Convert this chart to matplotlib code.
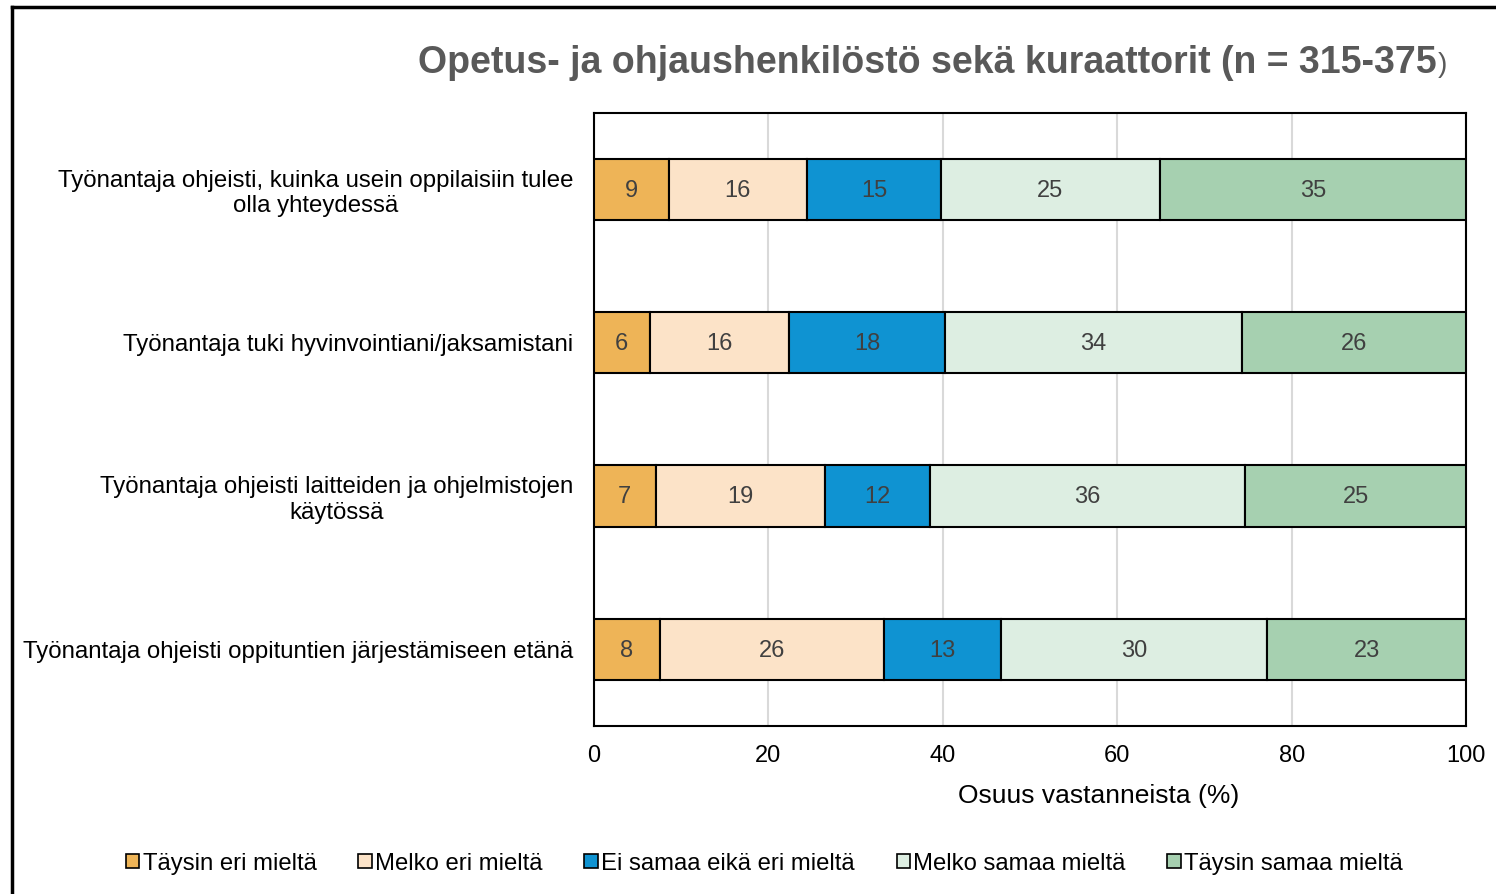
import matplotlib.pyplot as plt
import numpy as np
from matplotlib.lines import Line2D
from matplotlib.patches import Patch

plt.rcParams['font.family'] = ['Liberation Sans', 'DejaVu Sans']

# data (share of respondents, %)
questions = [
    "Työnantaja ohjeisti, kuinka usein oppilaisiin tulee\nolla yhteydessä",
    "Työnantaja tuki hyvinvointiani/jaksamistani",
    "Työnantaja ohjeisti laitteiden ja ohjelmistojen\nkäytössä",
    "Työnantaja ohjeisti oppituntien järjestämiseen etänä",
]
categories = ["Täysin eri mieltä", "Melko eri mieltä", "Ei samaa eikä eri mieltä",
              "Melko samaa mieltä", "Täysin samaa mieltä"]
taysin_eri = [8.6, 6.4, 7.1, 7.6]
melko_eri = [15.8, 16.0, 19.4, 25.7]
ei_samaa_eika_eri = [15.4, 17.9, 12.0, 13.4]
melko_samaa = [25.1, 34.0, 36.2, 30.5]
taysin_samaa = [35.1, 25.7, 25.3, 22.8]
colors = ['#EEB457', '#FCE3C8', '#0F93D2', '#DDEEE2', '#A6D0B0']

series = [taysin_eri, melko_eri, ei_samaa_eika_eri, melko_samaa, taysin_samaa]

fig = plt.figure(figsize=(14.96, 8.94), dpi=100)
ax = fig.add_axes([0.397, 0.188, 0.583, 0.686])

y = np.arange(len(questions))
left = np.zeros(len(questions))
for vals, col in zip(series, colors):
    vals = np.array(vals)
    ax.barh(y, vals, left=left, height=0.4, color=col, edgecolor='black',
            linewidth=1.5, zorder=3)
    for yi, l, v in zip(y, left, vals):
        ax.text(l + v / 2, yi + 0.01, f"{v:.0f}", ha='center', va='center',
                fontsize=17, color='#404040', zorder=4)
    left += vals

ax.set_xlim(0, 100)
ax.set_ylim(3.5, -0.5)
ax.set_xticks([0, 20, 40, 60, 80, 100])
ax.set_yticks(y)
ax.set_yticklabels(questions, fontsize=17.3, multialignment='center')
ax.tick_params(axis='x', length=0, labelsize=17, pad=14)
ax.tick_params(axis='y', length=0, pad=15)
ax.grid(axis='x', color='#D9D9D9', linewidth=1.5, zorder=0)
for s in ax.spines.values():
    s.set_linewidth(1.5)
ax.set_xlabel("Osuus vastanneista (%)", fontsize=19)
ax.xaxis.set_label_coords(0.579, -0.095)

# title: bold part plus a plain closing bracket
fig.text(0.9605, 0.93, "Opetus- ja ohjaushenkilöstö sekä kuraattorit (n = 315-375",
         ha='right', va='center', fontsize=27, fontweight='bold', color='#595959')
fig.text(0.961, 0.927, ")", ha='left', va='center', fontsize=20, color='#595959')

# outer frame (left and top edges visible)
fig.add_artist(Line2D([0.008, 0.008], [0, 0.992], color='black', linewidth=2.5))
fig.add_artist(Line2D([0.008, 1], [0.992, 0.992], color='black', linewidth=2.5))

handles = [Patch(facecolor=c, edgecolor='black', linewidth=1.2) for c in colors]
fig.legend(handles, categories, loc='center', bbox_to_anchor=(0.511, 0.034),
           ncol=5, frameon=False, fontsize=17.2, handlelength=0.55, handleheight=0.55,
           handletextpad=0.15, columnspacing=1.75)

fig.savefig("out.png", dpi=100)
